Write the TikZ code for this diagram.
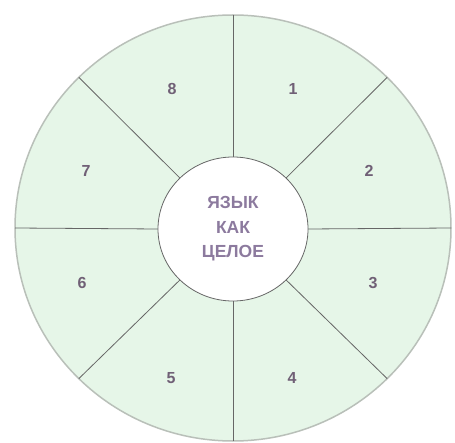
\documentclass[tikz,border=0pt]{standalone}
\usepackage{fontspec}
\setmainfont{Liberation Sans}
\usetikzlibrary{calc,shapes.geometric}
\begin{document}
\begin{tikzpicture}[x=1pt,y=-1pt,
  sector/.style={draw=black!60,line width=0.8pt},
  digit/.style={font=\bfseries\fontsize{16}{16}\selectfont,text=numcol},
  core/.style={font=\bfseries\fontsize{17.5}{24.5}\selectfont,text=corecol,align=center}]
\definecolor{mint}{RGB}{230,246,232}
\definecolor{numcol}{RGB}{112,96,118}
\definecolor{corecol}{RGB}{140,122,158}
\definecolor{rimcol}{RGB}{185,192,185}
\useasboundingbox (0,0) rectangle (455,443);
\fill[white] (0,0) rectangle (455,443);
\coordinate (c) at (233,228);
\coordinate (ci) at (233,229);
\fill[mint,draw=rimcol,line width=1.5pt] (c) ellipse [x radius=218, y radius=213];
\foreach \a in {0,45,...,315}{
  \draw[sector] ($(ci)+({75*cos(\a)},{72*sin(\a)})$) -- ($(c)+({218*cos(\a)},{213*sin(\a)})$);
}
\node[draw=black!60,fill=white,line width=0.8pt,ellipse,minimum width=150,minimum height=144,inner sep=0pt] (hub) at (ci) {};
\node[core] (txt) at (233,229) {ЯЗЫК\\КАК\\ЦЕЛОЕ};
\node[digit] (n1) at (293,89) {1};
\node[digit] (n2) at (369,171) {2};
\node[digit] (n3) at (373,283) {3};
\node[digit] (n4) at (292,378) {4};
\node[digit] (n5) at (171,378) {5};
\node[digit] (n6) at (82,283) {6};
\node[digit] (n7) at (86,171) {7};
\node[digit] (n8) at (172,89) {8};
\end{tikzpicture}
\end{document}
